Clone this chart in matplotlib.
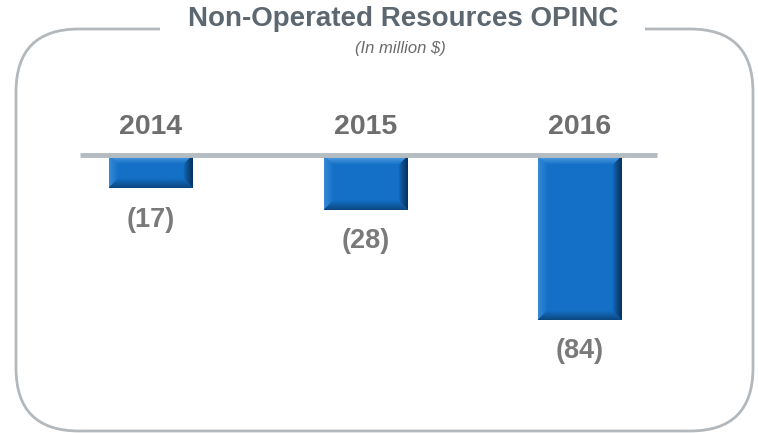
import matplotlib.pyplot as plt
from matplotlib.patches import FancyBboxPatch, Rectangle
import numpy as np

years = ["2014", "2015", "2016"]
opinc = [-17, -28, -84]
labels = ["(17)", "(28)", "(84)"]

W, H = 758, 433
PX_X = 214.5   # pixels per category step
PX_Y = 1.96    # pixels per million $
BASE_Y = 155   # baseline, pixels from top
X0 = 151       # first category centre, pixels


def bevel_image(w_px, h_px, b=9):
    """RGB shading for a beveled bar: light top, dark right/bottom edge."""
    base = np.array([20, 112, 198]) / 255.0
    h, w = max(int(h_px), 2), max(int(w_px), 2)
    i = np.arange(h)[:, None] * np.ones((1, w))
    j = np.ones((h, 1)) * np.arange(w)[None, :]
    d = np.stack([i, h - 1 - i, j, w - 1 - j])  # top, bottom, left, right
    which = d.argmin(axis=0)
    dist = d.min(axis=0)
    t = np.clip(1 - dist / b, 0, 1)
    img = np.ones((h, w, 3)) * base
    light = np.array([0.45, 0.72, 0.95])
    dark = np.array([0.02, 0.16, 0.30])
    amt = np.zeros((h, w))
    tgt = np.zeros((h, w, 3))
    m = which == 0
    amt[m] = t[m] * 0.75; tgt[m] = light
    m = which == 1
    amt[m] = t[m] * 0.55; tgt[m] = dark
    m = which == 2
    amt[m] = t[m] * 0.35; tgt[m] = light
    m = which == 3
    amt[m] = t[m] ** 0.8 * 0.85; tgt[m] = dark
    img = img * (1 - amt[..., None]) + tgt * amt[..., None]
    return np.clip(img, 0, 1)


fig = plt.figure(figsize=(W / 100, H / 100), dpi=100)
fig.patch.set_facecolor("white")

# ─ frame (pixel coords)
bg = fig.add_axes([0, 0, 1, 1])
bg.set_xlim(0, W)
bg.set_ylim(H, 0)
bg.axis("off")
r = 63
bx0, by0, bx1, by1 = 16, 29, 753, 431
box = FancyBboxPatch((bx0 + r, by0 + r), (bx1 - bx0) - 2 * r, (by1 - by0) - 2 * r,
                     boxstyle=f"round,pad={r}", fc="none", ec="#b3b8bd", lw=2)
bg.add_patch(box)
bg.add_patch(Rectangle((160, 20), 485, 20, fc="white", ec="none", zorder=3))
bg.text(403, 19, "Non-Operated Resources OPINC", ha="center", va="center",
        fontsize=20, fontweight="bold", color="#5d6770", family="Liberation Sans", zorder=4)
bg.text(400, 48, "(In million $)", ha="center", va="center", fontsize=12,
        style="italic", color="#6b6b6b", family="Liberation Sans", zorder=4)

# ─ bars
ax = fig.add_axes([0, 0, 1, 1], facecolor="none")
x = np.arange(len(years))
w = 0.39
vals = np.array(opinc, dtype=float)
for xi, v in zip(x, vals):
    img = bevel_image(w * PX_X, abs(v) * PX_Y)
    ax.imshow(img, extent=(xi - w / 2, xi + w / 2, v, 0), origin="upper",
              aspect="auto", interpolation="bilinear", zorder=2)
ax.set_xlim(-X0 / PX_X, (W - X0) / PX_X)
ax.set_ylim(-(H - BASE_Y) / PX_Y, BASE_Y / PX_Y)
ax.axis("off")

ax.plot([-0.331, 2.359], [0, 0], color="#b4bcc1", lw=3.5, zorder=4, solid_capstyle="butt")

for xi, yr in zip(x, years):
    ax.text(xi, 14.5, yr, ha="center", va="center", fontsize=20.5, fontweight="bold",
            color="#6e6e6e", family="Liberation Sans")
for xi, v, lab in zip(x, vals, labels):
    ax.text(xi, v - 16, lab, ha="center", va="center", fontsize=19.5, fontweight="bold",
            color="#7a7a7a", family="Liberation Sans")

fig.savefig("out.png", dpi=100)
